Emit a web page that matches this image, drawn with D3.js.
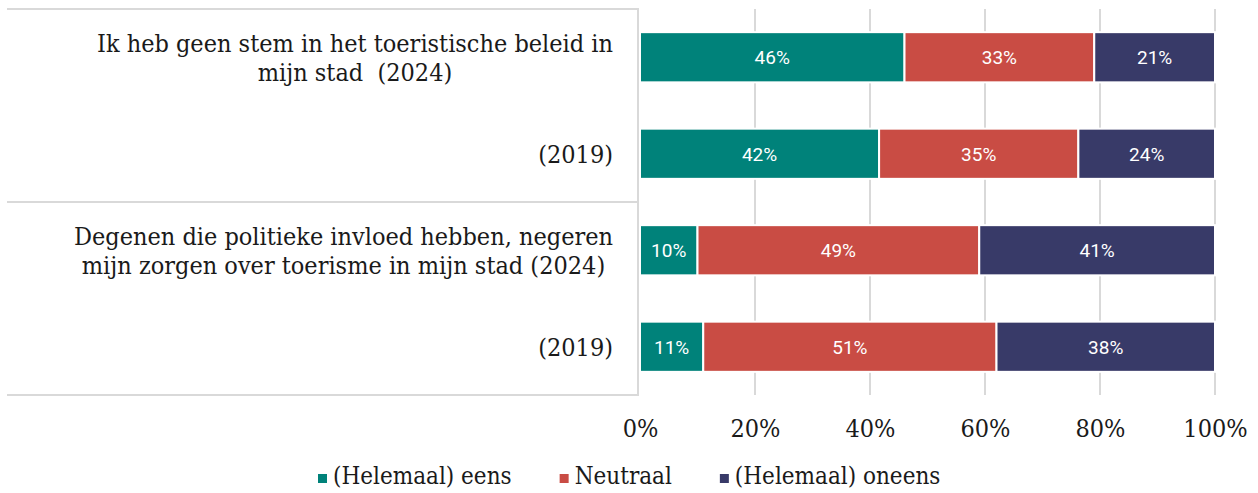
<!DOCTYPE html>
<html>
<head>
<meta charset="utf-8">
<script src="https://d3js.org/d3.v7.min.js"></script>
<style>
  body { margin: 0; background: #fff; }
</style>
</head>
<body>
<svg id="chart" width="1258" height="493"></svg>
<script>
// data
var rows = ["r1", "r2", "r3", "r4"];
var rowLabels = [
    ["Ik heb geen stem in het toeristische beleid in", "mijn stad  (2024)"],
    ["(2019)"],
    ["Degenen die politieke invloed hebben, negeren", "mijn zorgen over toerisme in mijn stad (2024)"],
    ["(2019)"]
];
var series = ["(Helemaal) eens", "Neutraal", "(Helemaal) oneens"];
var eens   = [46, 42, 10, 11];
var neutr  = [33, 35, 49, 51];
var oneens = [21, 24, 41, 38];
var ticks = [0, 0.2, 0.4, 0.6, 0.8, 1];
var colors = ["#00827a", "#c94c44", "#383a68"];

var svg = d3.select("#chart"),
    serif = "'DejaVu Serif Condensed', 'DejaVu Serif', serif",
    fs = "25px",
    plotLeft = 640, plotRight = 1215, plotTop = 9, plotBottom = 395;

var table = rows.map(function(r, i) {
    return {row: r, "(Helemaal) eens": eens[i], "Neutraal": neutr[i], "(Helemaal) oneens": oneens[i]};
});
var stacked = d3.stack().keys(series).offset(d3.stackOffsetExpand)(table);

var x = d3.scaleLinear().domain([0, 1]).range([plotLeft, plotRight]);
var y = d3.scaleBand().domain(rows).range([plotTop, plotBottom]).paddingInner(0.48).paddingOuter(0.24);
var color = d3.scaleOrdinal().domain(series).range(colors);

// gridlines
svg.append("g").selectAll("line").data(ticks.slice(1)).join("line")
    .attr("x1", function(d) { return x(d); }).attr("x2", function(d) { return x(d); })
    .attr("y1", plotTop).attr("y2", plotBottom)
    .attr("stroke", "#d9d9d9").attr("stroke-width", 2);

// left label frame
var frame = svg.append("g").attr("stroke", "#d9d9d9").attr("stroke-width", 2).attr("fill", "none");
[plotTop, (y("r2") + y.bandwidth() + y("r3")) / 2, plotBottom].forEach(function(yy) {
    frame.append("line").attr("x1", 7).attr("x2", 639).attr("y1", yy).attr("y2", yy);
});
frame.append("line").attr("x1", 638).attr("x2", 638).attr("y1", plotTop).attr("y2", plotBottom);

// bars
var groups = svg.append("g").selectAll("g").data(stacked).join("g")
    .attr("fill", function(d) { return color(d.key); });
groups.selectAll("rect").data(function(d) { return d; }).join("rect")
    .attr("x", function(d) { return x(d[0]); })
    .attr("y", function(d) { return y(d.data.row); })
    .attr("width", function(d) { return x(d[1]) - x(d[0]); })
    .attr("height", y.bandwidth())
    .attr("stroke", "#fff").attr("stroke-width", 2);

groups.selectAll("text").data(function(d) { return d.map(function(e) { e.key = d.key; return e; }); }).join("text")
    .attr("x", function(d) { return (x(d[0]) + x(d[1])) / 2; })
    .attr("y", function(d) { return y(d.data.row) + y.bandwidth() / 2; })
    .attr("dy", "0.36em")
    .attr("text-anchor", "middle")
    .attr("fill", "#fff")
    .style("font-family", "Roboto, sans-serif")
    .style("font-size", "19px")
    .text(function(d) { return d.data[d.key] + "%"; });

// row labels
rows.forEach(function(r, i) {
    var lines = rowLabels[i];
    var g = svg.append("g");
    var cy = y(r) + y.bandwidth() / 2;
    var lh = 29;
    var texts = lines.map(function(t, j) {
        return g.append("text")
            .attr("y", cy + (j - (lines.length - 1) / 2) * lh)
            .attr("dy", "0.35em")
            .attr("text-anchor", "middle")
            .attr("fill", "#1a1a1a")
            .style("font-family", serif)
            .style("font-size", fs)
            .style("white-space", "pre")
            .text(t);
    });
    var w = d3.max(texts, function(t) { return t.node().getComputedTextLength(); });
    texts.forEach(function(t) { t.attr("x", 613 - w / 2); });
});

// x axis
var axis = svg.append("g").attr("transform", "translate(0," + 428 + ")")
    .call(d3.axisBottom(x).tickValues(ticks).tickFormat(d3.format(".0%")).tickSize(0).tickPadding(0));
axis.select(".domain").remove();
axis.selectAll("text")
    .attr("dy", "0.35em")
    .attr("fill", "#1a1a1a")
    .style("font-family", serif)
    .style("font-size", fs);

// legend
var legend = svg.append("g");
var lx = 318;
series.forEach(function(s, i) {
    var item = legend.append("g");
    item.append("rect").attr("x", lx).attr("y", 474).attr("width", 9).attr("height", 9).attr("fill", color(s));
    var t = item.append("text").attr("x", lx + 15).attr("y", 476).attr("dy", "0.35em")
        .attr("fill", "#1a1a1a")
        .style("font-family", serif).style("font-size", "24px")
        .text(s);
    lx += 15 + t.node().getComputedTextLength() + 48;
});
</script>
</body>
</html>
